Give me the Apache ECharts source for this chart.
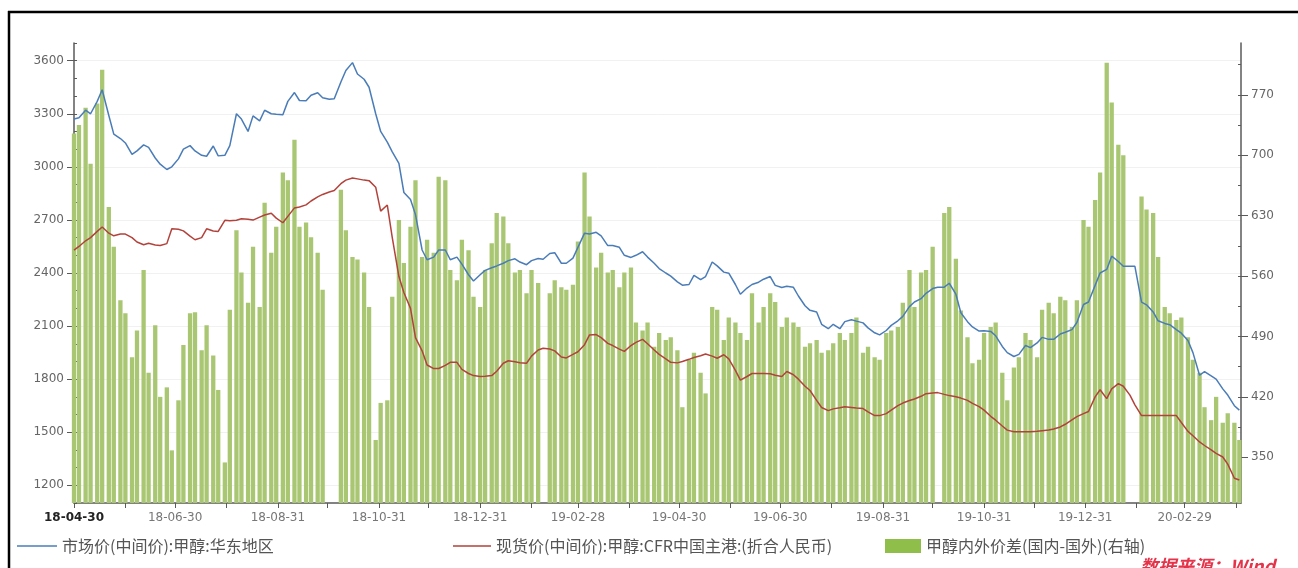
<!DOCTYPE html>
<html><head><meta charset="utf-8">
<script src="https://cdn.jsdelivr.net/npm/echarts@6/dist/echarts.min.js"></script>
<style>html,body{margin:0;padding:0;background:#fff}#c{width:1298px;height:568px}</style>
</head><body><div id="c"></div>
<script>
// Dates (Mon / Thu sampling)
var dates = [
'2018-04-30','2018-05-03','2018-05-07','2018-05-10','2018-05-14','2018-05-17','2018-05-21','2018-05-24','2018-05-28','2018-05-31',
'2018-06-04','2018-06-07','2018-06-11','2018-06-14','2018-06-18','2018-06-21','2018-06-25','2018-06-28','2018-07-02','2018-07-05',
'2018-07-09','2018-07-12','2018-07-16','2018-07-19','2018-07-23','2018-07-26','2018-07-30','2018-08-02','2018-08-06','2018-08-09',
'2018-08-13','2018-08-16','2018-08-20','2018-08-23','2018-08-27','2018-08-30','2018-09-03','2018-09-06','2018-09-10','2018-09-13',
'2018-09-17','2018-09-20','2018-09-24','2018-09-27','2018-10-01','2018-10-04','2018-10-08','2018-10-11','2018-10-15','2018-10-18',
'2018-10-22','2018-10-25','2018-10-29','2018-11-01','2018-11-05','2018-11-08','2018-11-12','2018-11-15','2018-11-19','2018-11-22',
'2018-11-26','2018-11-29','2018-12-03','2018-12-06','2018-12-10','2018-12-13','2018-12-17','2018-12-20','2018-12-24','2018-12-27',
'2018-12-31','2019-01-03','2019-01-07','2019-01-10','2019-01-14','2019-01-17','2019-01-21','2019-01-24','2019-01-28','2019-01-31',
'2019-02-04','2019-02-07','2019-02-11','2019-02-14','2019-02-18','2019-02-21','2019-02-25','2019-02-28','2019-03-04','2019-03-07',
'2019-03-11','2019-03-14','2019-03-18','2019-03-21','2019-03-25','2019-03-28','2019-04-01','2019-04-04','2019-04-08','2019-04-11',
'2019-04-15','2019-04-18','2019-04-22','2019-04-25','2019-04-29','2019-05-02','2019-05-06','2019-05-09','2019-05-13','2019-05-16',
'2019-05-20','2019-05-23','2019-05-27','2019-05-30','2019-06-03','2019-06-06','2019-06-10','2019-06-13','2019-06-17','2019-06-20',
'2019-06-24','2019-06-27','2019-07-01','2019-07-04','2019-07-08','2019-07-11','2019-07-15','2019-07-18','2019-07-22','2019-07-25',
'2019-07-29','2019-08-01','2019-08-05','2019-08-08','2019-08-12','2019-08-15','2019-08-19','2019-08-22','2019-08-26','2019-08-29',
'2019-09-02','2019-09-05','2019-09-09','2019-09-12','2019-09-16','2019-09-19','2019-09-23','2019-09-26','2019-09-30','2019-10-03',
'2019-10-07','2019-10-10','2019-10-14','2019-10-17','2019-10-21','2019-10-24','2019-10-28','2019-10-31','2019-11-04','2019-11-07',
'2019-11-11','2019-11-14','2019-11-18','2019-11-21','2019-11-25','2019-11-28','2019-12-02','2019-12-05','2019-12-09','2019-12-12',
'2019-12-16','2019-12-19','2019-12-23','2019-12-26','2019-12-30','2020-01-02','2020-01-06','2020-01-09','2020-01-13','2020-01-16',
'2020-01-20','2020-01-23','2020-01-27','2020-01-30','2020-02-03','2020-02-06','2020-02-10','2020-02-13','2020-02-17','2020-02-20',
'2020-02-24','2020-02-27','2020-03-02','2020-03-05','2020-03-09','2020-03-12','2020-03-16','2020-03-19','2020-03-23','2020-03-26',
'2020-03-30','2020-04-02'
];
// 市场价(中间价):甲醇:华东地区
var eastChina = [
3270,3277,3320,3300,3370,3436,3290,3185,3160,3135,3070,3090,3124,3110,3050,3015,2985,3000,3045,3100,
3120,3090,3065,3060,3118,3062,3065,3120,3300,3270,3200,3288,3260,3320,3300,3297,3294,3370,3420,3375,
3373,3405,3419,3390,3382,3385,3480,3545,3589,3525,3495,3450,3300,3200,3140,3085,3020,2855,2815,2730,
2530,2475,2490,2530,2530,2475,2490,2450,2390,2355,2390,2415,2430,2440,2455,2470,2480,2462,2447,2470,
2482,2478,2510,2515,2455,2455,2484,2545,2625,2620,2630,2610,2555,2555,2545,2500,2488,2500,2520,2490,
2455,2425,2400,2382,2350,2331,2335,2387,2362,2380,2462,2440,2405,2399,2335,2280,2315,2335,2348,2365,
2380,2330,2318,2325,2319,2270,2215,2189,2180,2110,2085,2110,2085,2125,2136,2128,2118,2090,2062,2050,
2075,2104,2130,2155,2210,2236,2255,2285,2312,2319,2320,2342,2280,2175,2125,2095,2072,2073,2070,2045,
1985,1950,1928,1940,1990,1978,2005,2036,2025,2025,2055,2065,2080,2120,2222,2236,2330,2400,2420,2495,
2465,2438,2438,2438,2235,2220,2180,2130,2115,2108,2080,2060,2018,1950,1822,1842,1818,1800,1745,1710,
1650,1625
];
// 现货价(中间价):甲醇:CFR中国主港:(折合人民币)
var cfrPort = [
2529,2550,2582,2600,2635,2660,2625,2610,2620,2620,2600,2575,2560,2568,2558,2555,2566,2650,2647,2638,
2608,2588,2600,2650,2637,2635,2698,2695,2698,2707,2704,2699,2716,2728,2738,2710,2684,2720,2768,2773,
2785,2807,2830,2844,2858,2866,2905,2925,2937,2932,2925,2922,2885,2750,2784,2600,2380,2290,2200,2035,
1960,1880,1860,1860,1878,1895,1895,1855,1832,1820,1815,1817,1820,1845,1890,1904,1898,1893,1890,1930,
1965,1975,1970,1960,1925,1920,1940,1955,1995,2050,2052,2035,2002,1990,1970,1957,1990,2008,2025,2000,
1965,1940,1915,1895,1892,1900,1912,1922,1932,1942,1930,1918,1938,1915,1850,1795,1815,1832,1832,1832,
1830,1822,1815,1843,1825,1800,1760,1736,1680,1640,1622,1632,1638,1644,1640,1637,1634,1615,1594,1594,
1605,1625,1650,1665,1679,1688,1703,1718,1722,1724,1714,1707,1700,1693,1680,1663,1645,1625,1590,1568,
1535,1512,1503,1503,1503,1503,1505,1508,1512,1518,1530,1545,1570,1588,1605,1617,1700,1740,1690,1745,
1775,1760,1710,1655,1594,1594,1594,1594,1594,1594,1594,1555,1505,1480,1445,1425,1400,1380,1360,1320,
1240,1230
];
// 甲醇内外价差(国内-国外)(右轴)
var spread = [
725,735,755,690,760,799,640,594,532,517,466,497,567,448,503,420,431,358,416,480,
517,518,474,503,468,428,344,521,613,564,529,594,524,645,587,617,680,671,718,617,
622,605,587,544,280,280,660,613,582,579,564,524,370,413,416,536,625,575,617,671,
582,602,587,675,671,567,555,602,590,536,524,567,598,633,629,598,564,567,540,567,
552,280,540,555,547,544,550,600,680,629,570,587,564,567,547,564,570,506,497,506,
478,494,486,489,474,408,463,471,448,424,524,521,486,512,506,494,486,540,506,524,
540,530,501,512,506,501,478,482,486,471,474,482,494,486,494,512,471,478,466,463,
494,497,501,529,567,524,564,567,594,280,633,640,580,520,489,459,463,494,501,506,
448,416,454,466,494,486,466,521,529,517,536,532,501,532,625,617,648,680,807,761,
712,700,280,280,652,637,633,582,524,517,509,512,489,463,448,408,393,420,390,401,
390,370
];
var seriesNames = ['市场价(中间价):甲醇:华东地区','现货价(中间价):甲醇:CFR中国主港:(折合人民币)','甲醇内外价差(国内-国外)(右轴)'];
var labelDates = ['2018-04-30','2018-06-30','2018-08-31','2018-10-31','2018-12-31','2019-02-28','2019-04-30','2019-06-30','2019-08-31','2019-10-31','2019-12-31','2020-02-29'];
var tickLabels = ['18-04-30','18-06-30','18-08-31','18-10-31','18-12-31','19-02-28','19-04-30','19-06-30','19-08-31','19-10-31','19-12-31','20-02-29'];
var monthEnds = ['2018-04-30','2018-05-31','2018-06-30','2018-07-31','2018-08-31','2018-09-30','2018-10-31','2018-11-30','2018-12-31',
'2019-01-31','2019-02-28','2019-03-31','2019-04-30','2019-05-31','2019-06-30','2019-07-31','2019-08-31','2019-09-30','2019-10-31',
'2019-11-30','2019-12-31','2020-01-31','2020-02-29','2020-03-31'];
var leftLabels = [1200,1500,1800,2100,2400,2700,3000,3300,3600];
var rightLabels = [350,420,490,560,630,700,770];
var rightMinor = [315,350,385,420,455,490,525,560,595,630,665,700,735,770,805];

function t(s){var p=s.split('-');return Date.UTC(+p[0],+p[1]-1,+p[2]);}
function pairs(vals){return dates.map(function(d,i){return [t(d),vals[i]];});}
var labelTimes = labelDates.map(t);

var chart = echarts.init(document.getElementById('c'));
var axisCol = '#5a5a5a';
var numFont = 'DejaVu Sans';
var cjkFont = 'Noto Sans CJK SC';
var blue = '#4a7cb8', red = '#b2423a';
function plain(v){return String(v);}
chart.setOption({
  animation:false,
  backgroundColor:'#ffffff',
  textStyle:{fontFamily:numFont},
  grid:{left:74,right:57,top:43,bottom:65,containLabel:false},
  legend:[
    {data:[seriesNames[0]],left:12,top:533,icon:'rect',itemWidth:40,itemHeight:1.6,itemStyle:{color:blue},textStyle:{fontFamily:cjkFont,fontSize:16,color:'#555'}},
    {data:[seriesNames[1]],left:448,top:533,icon:'rect',itemWidth:38,itemHeight:1.6,itemStyle:{color:red},textStyle:{fontFamily:cjkFont,fontSize:16,color:'#555'}},
    {data:[seriesNames[2]],left:880,top:533,icon:'rect',itemWidth:36,itemHeight:14,itemStyle:{color:'#8fbe4a'},textStyle:{fontFamily:cjkFont,fontSize:16,color:'#555'}}
  ],
  xAxis:{
    type:'value', min:t('2018-04-30'), max:t('2020-04-03'), scale:true,
    axisLine:{lineStyle:{color:axisCol,width:1.5}},
    axisTick:{customValues:monthEnds.map(t),length:5,lineStyle:{color:axisCol}},
    axisLabel:{customValues:labelTimes,margin:9,fontSize:12,color:'#777',fontFamily:numFont,
      formatter:function(v){
        var best=0,bd=Infinity;
        for(var i=0;i<labelTimes.length;i++){var d=Math.abs(labelTimes[i]-v);if(d<bd){bd=d;best=i;}}
        return best===0?'{b|'+tickLabels[0]+'}':tickLabels[best];
      },
      rich:{b:{fontWeight:'bold',color:'#222',fontSize:12,fontFamily:numFont}}
    },
    splitLine:{show:false}
  },
  yAxis:[
    {type:'value',position:'left',min:1100,max:3700,
      axisLine:{show:true,lineStyle:{color:axisCol,width:1.5}},
      axisTick:{show:true,customValues:leftLabels,length:7,lineStyle:{color:axisCol}},
      axisLabel:{customValues:leftLabels,margin:10,fontSize:12,color:'#666',fontFamily:numFont,formatter:plain},
      splitLine:{show:true,lineStyle:{color:'#f1f1f1',width:1}}},
    {type:'value',position:'left',min:1100,max:3700,interval:100,
      axisLine:{show:false},axisTick:{show:true,inside:true,length:3,lineStyle:{color:axisCol}},
      axisLabel:{show:false},splitLine:{show:false}},
    {type:'value',position:'right',min:297,max:830,
      axisLine:{show:true,lineStyle:{color:axisCol,width:1.5}},
      axisTick:{show:true,customValues:rightLabels,length:7,lineStyle:{color:axisCol}},
      axisLabel:{customValues:rightLabels,margin:10,fontSize:12,color:'#666',fontFamily:numFont,formatter:plain},
      splitLine:{show:false}},
    {type:'value',position:'right',min:297,max:830,
      axisLine:{show:false},axisTick:{show:true,inside:true,length:3,customValues:rightMinor,lineStyle:{color:axisCol}},
      axisLabel:{show:false},splitLine:{show:false}}
  ],
  series:[
    {name:seriesNames[2],type:'bar',yAxisIndex:2,barWidth:4.3,data:pairs(spread),
      itemStyle:{color:'#a9c773'},z:1},
    {name:seriesNames[0],type:'line',yAxisIndex:0,data:pairs(eastChina),symbol:'none',showSymbol:false,
      lineStyle:{color:blue,width:1.5},itemStyle:{color:blue},z:3},
    {name:seriesNames[1],type:'line',yAxisIndex:0,data:pairs(cfrPort),symbol:'none',showSymbol:false,
      lineStyle:{color:red,width:1.5},itemStyle:{color:red},z:4}
  ],
  graphic:[
    {type:'line',shape:{x1:8,y1:12,x2:1298,y2:12},style:{stroke:'#000',lineWidth:2.5},silent:true},
    {type:'line',shape:{x1:9,y1:11,x2:9,y2:568},style:{stroke:'#000',lineWidth:2.5},silent:true},
    {type:'text',left:1140,top:557,style:{text:'数据来源：Wind',fill:'#e5344a',font:'italic bold 18px "Noto Sans CJK SC"'},silent:true}
  ]
});
</script></body></html>
